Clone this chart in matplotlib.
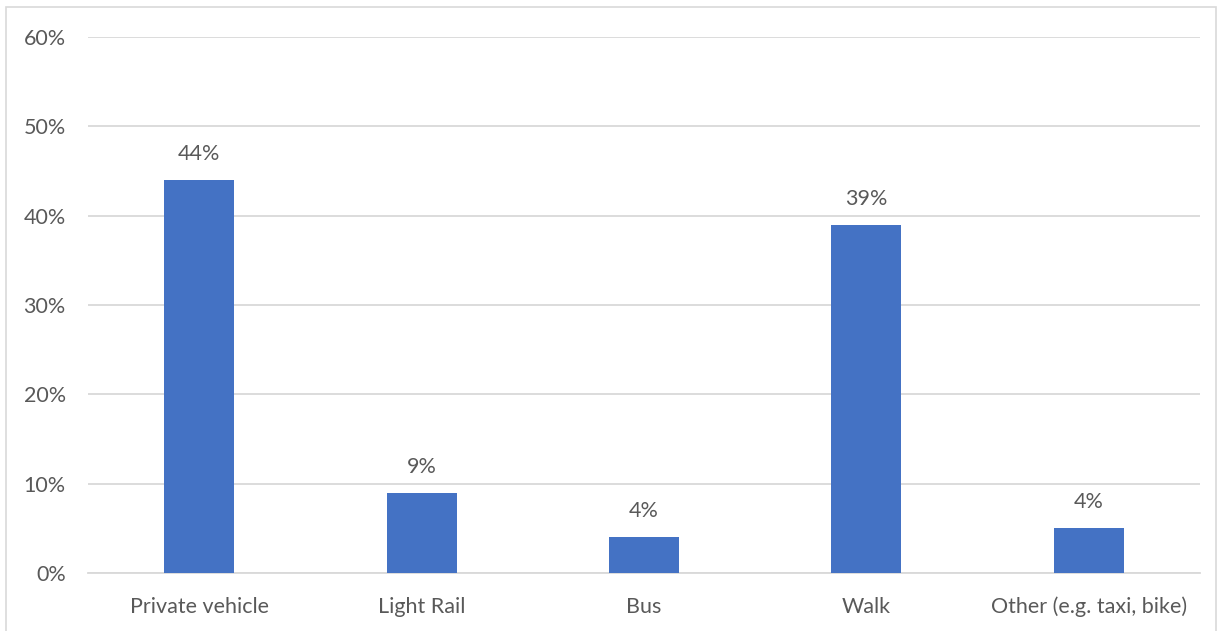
import matplotlib.pyplot as plt
from matplotlib.patches import Rectangle

categories = ["Private vehicle", "Light Rail", "Bus", "Walk", "Other (e.g. taxi, bike)"]
shares = [44, 9, 4, 39, 5]
share_labels = ["44%", "9%", "4%", "39%", "4%"]
yticks = [0, 10, 20, 30, 40, 50, 60]

plt.rcParams['font.family'] = ['Lato', 'DejaVu Sans']
text_color = '#595959'

fig = plt.figure(figsize=(12.18, 6.31), dpi=100)
ax = fig.add_axes([88 / 1218, 1 - 573 / 631, 1112 / 1218, 536 / 631])

x = range(len(categories))
bars = ax.bar(x, shares, width=0.315, color='#4472C4', zorder=3)
for b, lab in zip(bars, share_labels):
    ax.text(b.get_x() + b.get_width() / 2, b.get_height() + 1.8, lab,
            ha='center', va='bottom', fontsize=15.5, color=text_color)

ax.set_xlim(-0.5, len(categories) - 0.5)
ax.set_ylim(0, 60)
ax.set_yticks(yticks)
ax.set_yticklabels([f"{t}%" for t in yticks])
ax.set_xticks(list(x))
ax.set_xticklabels(categories)
ax.tick_params(axis='both', length=0, labelsize=15.5, colors=text_color)
ax.tick_params(axis='y', pad=16)
ax.tick_params(axis='x', pad=17)
ax.yaxis.grid(True, color='#d9d9d9', linewidth=1.3, zorder=0)
for s in ['top', 'right', 'left']:
    ax.spines[s].set_visible(False)
ax.spines['bottom'].set_color('#d9d9d9')
ax.spines['bottom'].set_linewidth(1.3)

fig.patches.append(Rectangle((6 / 1218, -0.01), 1210 / 1218, 1 - 7 / 631 + 0.01,
                             transform=fig.transFigure, fill=False,
                             edgecolor='#d9d9d9', linewidth=1.2))

fig.savefig("out.png", dpi=100)
